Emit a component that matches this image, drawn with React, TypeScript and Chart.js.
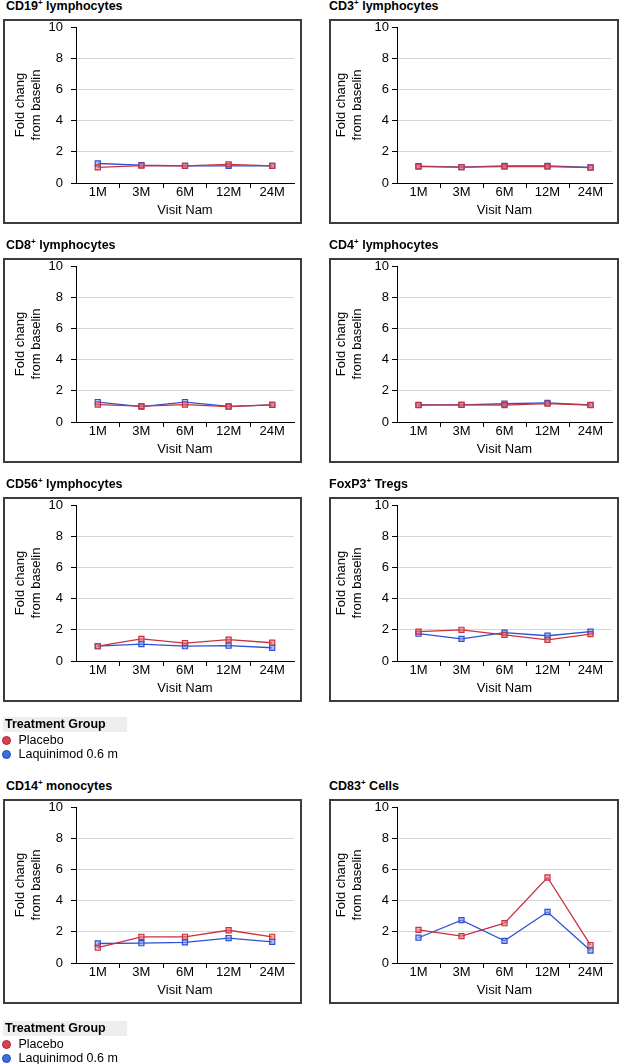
import React, { useEffect, useRef } from 'react';
import { Chart, registerables } from 'chart.js';
Chart.register(...registerables);

// ---------- data ----------
const visits = ['1M', '3M', '6M', '12M', '24M'];
const seriesNames = ['Placebo', 'Laquinimod 0.6 m'];
const legendTitle = 'Treatment Group';
const yAxisTitle = ['Fold chang', 'from baselin'];
const xAxisTitle = 'Visit Nam';
const yMin = 0;
const yMax = 10;
const yStep = 2;

const cd19Placebo = [1.0, 1.12, 1.1, 1.2, 1.1];
const cd19Laq = [1.25, 1.14, 1.1, 1.1, 1.1];
const cd3Placebo = [1.05, 1.02, 1.05, 1.05, 0.98];
const cd3Laq = [1.08, 1.02, 1.1, 1.1, 1.0];
const cd8Placebo = [1.12, 1.02, 1.12, 0.98, 1.1];
const cd8Laq = [1.28, 0.98, 1.28, 1.0, 1.1];
const cd4Placebo = [1.08, 1.1, 1.08, 1.18, 1.08];
const cd4Laq = [1.1, 1.1, 1.17, 1.22, 1.1];
const cd56Placebo = [0.95, 1.42, 1.15, 1.37, 1.17];
const cd56Laq = [0.95, 1.08, 0.95, 0.98, 0.85];
const foxp3Placebo = [1.88, 2.0, 1.68, 1.36, 1.72];
const foxp3Laq = [1.75, 1.42, 1.82, 1.62, 1.88];
const cd14Placebo = [0.98, 1.68, 1.68, 2.1, 1.68];
const cd14Laq = [1.25, 1.27, 1.32, 1.6, 1.36];
const cd83Placebo = [2.12, 1.72, 2.55, 5.48, 1.15];
const cd83Laq = [1.62, 2.75, 1.42, 3.27, 0.8];

const panelMarkers = ['CD19', 'CD3', 'CD8', 'CD4', 'CD56', 'FoxP3', 'CD14', 'CD83'];
const panelSuffixes = [' lymphocytes', ' lymphocytes', ' lymphocytes', ' lymphocytes', ' lymphocytes', ' Tregs', ' monocytes', ' Cells'];
const placeboSeries = [cd19Placebo, cd3Placebo, cd8Placebo, cd4Placebo, cd56Placebo, foxp3Placebo, cd14Placebo, cd83Placebo];
const laqSeries = [cd19Laq, cd3Laq, cd8Laq, cd4Laq, cd56Laq, foxp3Laq, cd14Laq, cd83Laq];

// ---------- layout / style ----------
const FONT = "'Liberation Sans', Arial, Helvetica, sans-serif";
const RED = '#c8323f';
const RED_FILL = 'rgba(228,120,130,0.55)';
const BLUE = '#2e50d2';
const BLUE_FILL = 'rgba(120,150,240,0.55)';

const ROW_TOPS = [19, 258, 497, 799];
const FRAME_H = 205;
const PLOT_TOP_OFF = 8;
const PLOT_BOTTOM_OFF = 164;
const COLS = [
  { fx: 3, fw: 299, plotLeft: 76, plotRight: 294, tickPad: 8, titlePad: 10, titleX: 6 },
  { fx: 329, fw: 290, plotLeft: 397, plotRight: 612, tickPad: 3, titlePad: 5, titleX: 329 },
];
const LEGEND_TOPS = [717, 1021];

function Panel({ idx }: { idx: number }) {
  const ref = useRef<HTMLCanvasElement | null>(null);
  const col = COLS[idx % 2];
  const fy = ROW_TOPS[Math.floor(idx / 2)];
  useEffect(() => {
    if (!ref.current) return;
    const font = { family: FONT, size: 13 };
    const chart = new Chart(ref.current, {
      type: 'line',
      data: {
        labels: visits,
        datasets: [
          {
            label: seriesNames[0],
            data: placeboSeries[idx],
            borderColor: RED,
            borderWidth: 1.3,
            pointStyle: 'rect',
            pointRadius: 3.6,
            pointBackgroundColor: RED_FILL,
            pointBorderColor: RED,
            pointBorderWidth: 1.2,
            tension: 0,
          },
          {
            label: seriesNames[1],
            data: laqSeries[idx],
            borderColor: BLUE,
            borderWidth: 1.3,
            pointStyle: 'rect',
            pointRadius: 3.6,
            pointBackgroundColor: BLUE_FILL,
            pointBorderColor: BLUE,
            pointBorderWidth: 1.2,
            tension: 0,
          },
        ],
      },
      options: {
        animation: false,
        responsive: false,
        maintainAspectRatio: false,
        devicePixelRatio: 1,
        layout: {
          padding: { left: 0, top: PLOT_TOP_OFF, right: col.fx + col.fw - col.plotRight, bottom: 0 },
        },
        plugins: {
          legend: { display: false },
          tooltip: { enabled: false },
        },
        scales: {
          x: {
            type: 'category',
            offset: true,
            grid: {
              offset: true,
              drawOnChartArea: false,
              drawTicks: true,
              tickLength: 5,
              color: '#000',
              tickColor: (ctx: any) => (ctx.type === 'tick' && ctx.index > 0 ? '#000' : 'rgba(0,0,0,0)'),
            },
            border: { display: true, color: '#000', width: 1 },
            ticks: {
              font: { family: FONT, size: 13, lineHeight: 1 },
              color: '#000',
              padding: -2,
              maxRotation: 0,
              autoSkip: false,
            },
            title: {
              display: true,
              text: xAxisTitle,
              font,
              color: '#000',
              padding: { top: 0, bottom: 6 },
            },
            afterFit: (s: any) => {
              s.height = FRAME_H - PLOT_BOTTOM_OFF;
              s.paddingLeft = 0;
              s.paddingRight = 0;
            },
          },
          y: {
            min: yMin,
            max: yMax,
            ticks: { stepSize: yStep, font, color: '#000', padding: col.tickPad },
            grid: {
              color: (ctx: any) =>
                ctx.tick && (ctx.tick.value === yMin || ctx.tick.value === yMax) ? 'rgba(0,0,0,0)' : '#d6d6d6',
              tickColor: '#000',
              tickLength: 5,
              lineWidth: 1,
            },
            border: { display: true, color: '#000', width: 1 },
            title: {
              display: true,
              text: yAxisTitle,
              font,
              color: '#000',
              padding: { top: col.titlePad, bottom: 0 },
            },
            afterFit: (s: any) => {
              s.width = col.plotLeft - col.fx;
              s.paddingTop = 0;
              s.paddingBottom = 0;
            },
          },
        },
      },
    } as any);
    return () => chart.destroy();
  }, [idx]);

  return (
    <>
      <div
        style={{
          position: 'absolute',
          left: col.titleX,
          top: fy - 20,
          font: `bold 12.5px ${FONT}`,
          lineHeight: '14px',
          whiteSpace: 'nowrap',
          color: '#000',
        }}
      >
        {panelMarkers[idx]}
        <sup style={{ fontSize: '8px', lineHeight: 0, verticalAlign: 'baseline', position: 'relative', top: '-5px' }}>+</sup>
        {panelSuffixes[idx]}
      </div>
      <canvas
        ref={ref}
        width={col.fw}
        height={FRAME_H}
        style={{ position: 'absolute', left: col.fx, top: fy, width: col.fw, height: FRAME_H, display: 'block' }}
      />
      <div
        style={{
          position: 'absolute',
          left: col.fx,
          top: fy,
          width: col.fw,
          height: FRAME_H,
          border: '2px solid #3c3c3c',
          boxSizing: 'border-box',
          pointerEvents: 'none',
        }}
      />
    </>
  );
}

function Legend({ top }: { top: number }) {
  const colors = [
    { fill: '#d9404f', stroke: '#a8243a' },
    { fill: '#3c6ee2', stroke: '#2246b0' },
  ];
  return (
    <>
      <div style={{ position: 'absolute', left: 3, top, width: 124, height: 15, background: '#eeeeee' }} />
      <div
        style={{
          position: 'absolute',
          left: 5,
          top,
          lineHeight: '15px',
          font: `bold 12.5px ${FONT}`,
          color: '#000',
          whiteSpace: 'nowrap',
        }}
      >
        {legendTitle}
      </div>
      {seriesNames.map((name, i) => {
        const cy = top + 23.5 + i * 14;
        return (
          <React.Fragment key={name}>
            <div
              style={{
                position: 'absolute',
                left: 1.5,
                top: cy - 4.5,
                width: 9,
                height: 9,
                borderRadius: '50%',
                background: colors[i].fill,
                border: `1px solid ${colors[i].stroke}`,
                boxSizing: 'border-box',
              }}
            />
            <div
              style={{
                position: 'absolute',
                left: 18.5,
                top: cy - 8,
                lineHeight: '16px',
                font: `12.5px ${FONT}`,
                color: '#000',
                whiteSpace: 'nowrap',
              }}
            >
              {name}
            </div>
          </React.Fragment>
        );
      })}
    </>
  );
}

export default function App() {
  return (
    <div style={{ position: 'absolute', left: 0, top: 0, width: 623, height: 1064, background: '#fff', overflow: 'hidden' }}>
      {panelMarkers.map((_, i) => (
        <Panel key={i} idx={i} />
      ))}
      {LEGEND_TOPS.map((t) => (
        <Legend key={t} top={t} />
      ))}
    </div>
  );
}
